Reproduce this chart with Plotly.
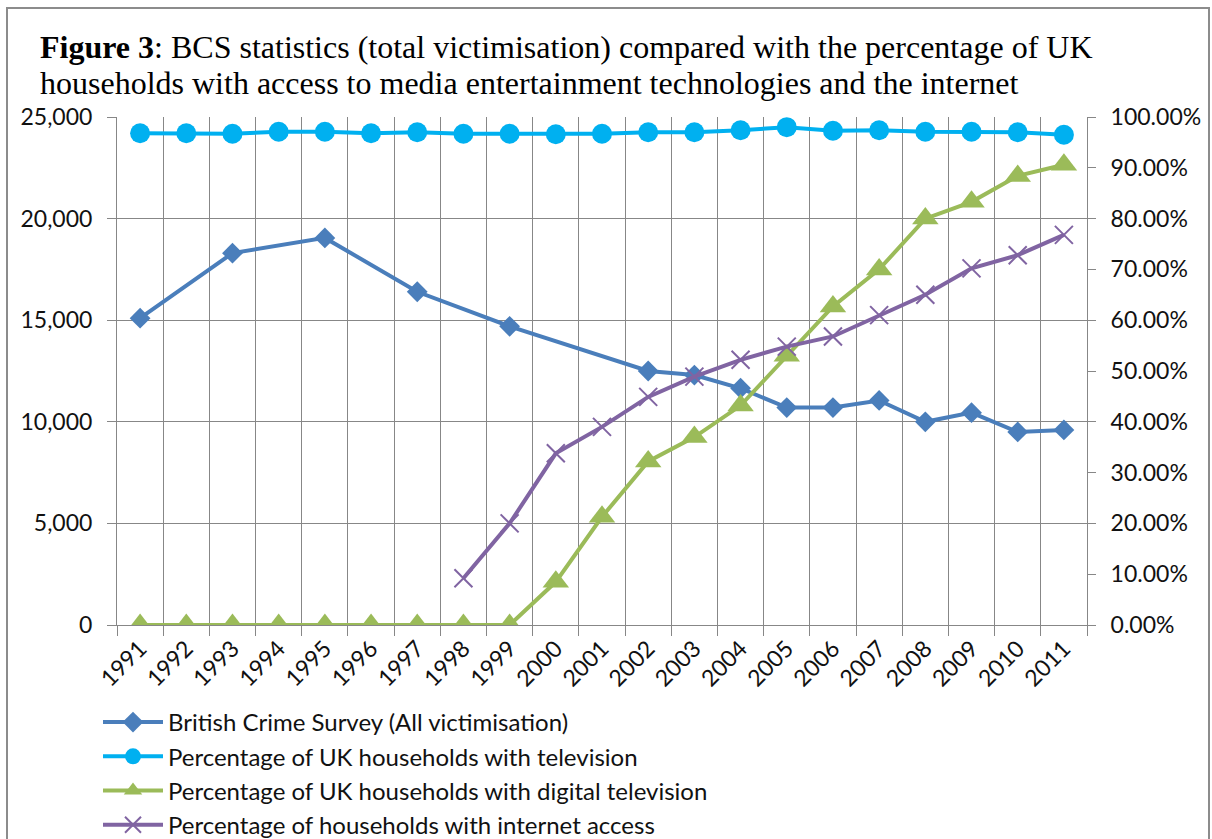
import plotly.graph_objects as go

# Survey years shown on the category axis
years = [str(y) for y in range(1991, 2012)]

# British Crime Survey, all victimisation (thousands of incidents); None = no survey that year
bcs_victimisation = [15100, None, 18300, None, 19050, None, 16400, None, 14700, None, None,
                     12500, 12300, 11650, 10700, 10700, 11050, 10000, 10450, 9500, 9600]

# Household access, percent
tv_pct = [96.8, 96.8, 96.7, 97.1, 97.1, 96.8, 97.0, 96.7, 96.7, 96.6, 96.7,
          97.0, 97.0, 97.4, 98.0, 97.3, 97.4, 97.1, 97.1, 97.0, 96.5]
digital_tv_pct = [0, 0, 0, 0, 0, 0, 0, 0, 0, 8.5, 21.3,
                  32.2, 37.0, 43.2, 53.0, 62.7, 70.0, 80.0, 83.3, 88.4, 90.6]
internet_pct = [None, None, None, None, None, None, None, 9.2, 20.0, 33.8, 39.0,
                44.9, 48.9, 52.2, 54.8, 56.8, 61.0, 65.0, 70.2, 72.8, 76.8]

# Plot-area geometry in pixels
W, H = 1212, 839
L, R, T, B = 117, 1087, 117, 625
PW, PH = R - L, B - T

def px(x):
    return (x - L) / PW

def py(y):
    return (B - y) / PH

grid = "#878787"
sans = "Lato"

fig = go.Figure()
fig.add_trace(go.Scatter(
    x=years, y=bcs_victimisation, name="British Crime Survey (All victimisation)",
    mode="lines+markers", connectgaps=True,
    line=dict(color="#4A7EBB", width=4),
    marker=dict(symbol="diamond", size=16, color="#4A7EBB"),
))
fig.add_trace(go.Scatter(
    x=years, y=tv_pct, name="Percentage of UK households with television",
    mode="lines+markers", yaxis="y2",
    line=dict(color="#00B0F0", width=4),
    marker=dict(symbol="circle", size=20, color="#00B0F0"),
))
fig.add_trace(go.Scatter(
    x=years, y=digital_tv_pct, name="Percentage of UK households with digital television",
    mode="lines+markers", yaxis="y2",
    line=dict(color="#9BBB59", width=4),
    marker=dict(symbol="triangle-up", size=23, color="#9BBB59"),
))
fig.add_trace(go.Scatter(
    x=years, y=internet_pct, name="Percentage of households with internet access",
    mode="lines+markers", yaxis="y2",
    line=dict(color="#8064A2", width=4),
    marker=dict(symbol="x-thin-open", size=18, color="#8064A2",
                line=dict(color="#8064A2", width=2)),
))

fig.update_layout(
    width=W, height=H,
    margin=dict(l=L, r=W - R, t=T, b=H - B, autoexpand=False),
    paper_bgcolor="white", plot_bgcolor="white",
    font=dict(family=sans, size=23, color="#111"),
    showlegend=True,
    legend=dict(xref="container", yref="container", x=98 / W, y=1 - 700 / H,
                xanchor="left", yanchor="top",
                orientation="v", itemwidth=60, tracegroupgap=0,
                font=dict(family=sans, size=24, color="#111"),
                bgcolor="rgba(0,0,0,0)"),
    xaxis=dict(type="category", tickson="boundaries", range=[-0.5, 20.5],
               showgrid=True, gridcolor=grid, gridwidth=1, automargin=False,
               ticks="outside", ticklen=10, tickcolor=grid, tickwidth=1,
               tickangle=-45, showline=True, linecolor=grid, linewidth=1,
               tickfont=dict(family=sans, size=23, color="#111"), zeroline=False),
    yaxis=dict(range=[0, 25000], dtick=5000, tickformat=",", showgrid=True,
               gridcolor=grid, gridwidth=1, ticks="outside", ticklen=9,
               tickcolor=grid, showline=True, linecolor=grid, linewidth=1,
               automargin=False, ticklabelstandoff=10,
               zeroline=False, tickfont=dict(family=sans, size=23, color="#111")),
    yaxis2=dict(range=[0, 100], dtick=10, tickformat=".2f", ticksuffix="%",
                overlaying="y", side="right", showgrid=False, automargin=False,
                ticks="outside", ticklen=8, tickcolor=grid, showline=True,
                linecolor=grid, linewidth=1, zeroline=False, ticklabelstandoff=10,
                tickfont=dict(family=sans, size=23, color="#111")),
)

# Chart title, one annotation per line: bold figure number, then regular caption
title_lines = [
    "<b>Figure 3</b>: BCS statistics (total victimisation) compared with the percentage of UK",
    "households with access to media entertainment technologies and the internet",
]
for line_text, y_mid in zip(title_lines, [47, 83]):
    fig.add_annotation(
        xref="paper", yref="paper", x=px(38), y=py(y_mid), xanchor="left", yanchor="middle",
        align="left", showarrow=False, text=line_text,
        font=dict(family="Liberation Serif", size=32, color="#000"),
    )

# Outer chart-area border
fig.add_shape(type="rect", xref="paper", yref="paper",
              x0=px(7), x1=px(1209), y0=py(860), y1=py(8),
              line=dict(color="#8c8c8c", width=2), fillcolor="rgba(0,0,0,0)", layer="below")

fig.write_html("out.html")
